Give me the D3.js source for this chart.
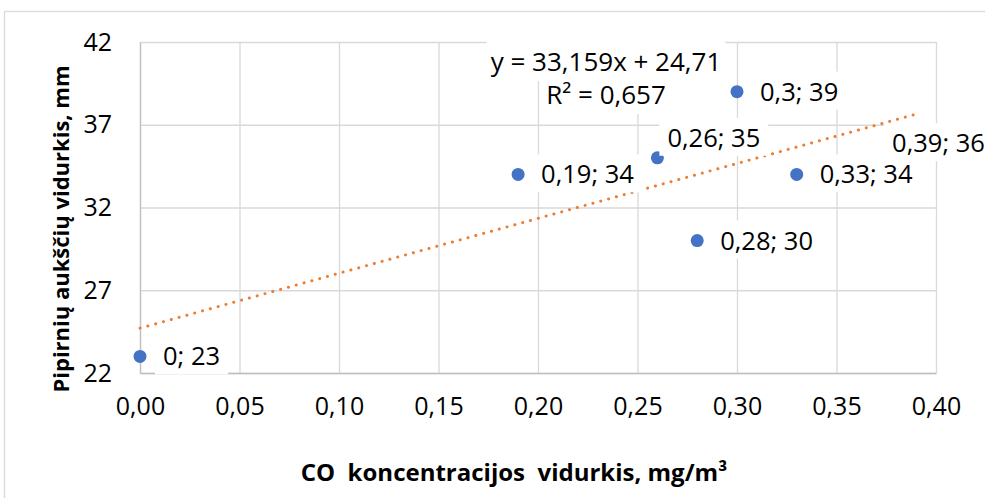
<!DOCTYPE html>
<html>
<head>
<meta charset="utf-8">
<script src="https://cdn.jsdelivr.net/npm/d3@7"></script>
<style>
  body { margin: 0; background: #fff; }
  text { font-family: "Open Sans", sans-serif; fill: #000; }
</style>
</head>
<body>
<script>
// chart values
let xValues = [0, 0.19, 0.26, 0.28, 0.3, 0.33, 0.39]
let yValues = [23, 34, 35, 30, 39, 34, 36]
// label offsets like excel puts them (right of the point, a few moved)
let labelShift = [[0, 0], [0, 0], [-13, -20], [0, 0], [0, 0], [0, 0], [-47, 2]]
let xTicks = [0, 0.05, 0.1, 0.15, 0.2, 0.25, 0.3, 0.35, 0.4]
let yTicks = [22, 27, 32, 37, 42]
let trend = { slope: 33.159, intercept: 24.71, r2: '0,657' }
let xTitle = 'CO  koncentracijos  vidurkis, mg/m³'
let yTitle = 'Pipirnių aukščių vidurkis, mm'

let m = { width: 985, height: 498, left: 140, right: 936, top: 42, bottom: 373 }

let svg = d3.select('body').append('svg')
  .attr('width', m.width)
  .attr('height', m.height)

// outer chart border
svg.append('rect')
  .attr('x', 4.5).attr('y', 11.5)
  .attr('width', 1000).attr('height', 600)
  .attr('fill', 'none').attr('stroke', '#d9d9d9').attr('stroke-width', 1.3)

let x = d3.scaleLinear().domain([0, 0.4]).range([m.left, m.right])
let y = d3.scaleLinear().domain([22, 42]).range([m.bottom, m.top])

let fmt = d3.format('.2f')

// grid
svg.append('g')
  .attr('transform', 'translate(0,' + m.bottom + ')')
  .call(d3.axisBottom(x).tickValues(xTicks).tickSize(-(m.bottom - m.top)).tickFormat(''))
  .call(g => g.select('.domain').remove())
  .selectAll('line').attr('stroke', '#d9d9d9').attr('stroke-width', 1.3)

svg.append('g')
  .attr('transform', 'translate(' + m.left + ',0)')
  .call(d3.axisLeft(y).tickValues(yTicks).tickSize(-(m.right - m.left)).tickFormat(''))
  .call(g => g.select('.domain').remove())
  .selectAll('line').attr('stroke', '#d9d9d9').attr('stroke-width', 1.3)

// axis lines + tick labels
let xAxis = svg.append('g')
  .attr('transform', 'translate(0,' + m.bottom + ')')
  .call(d3.axisBottom(x).tickValues(xTicks).tickSize(0).tickPadding(24)
    .tickFormat(d => fmt(d).replace('.', ',')))
xAxis.select('.domain').attr('stroke', '#bfbfbf').attr('stroke-width', 1.3)
xAxis.selectAll('text').style('font-size', '25px').attr('fill', '#000')

let yAxis = svg.append('g')
  .attr('transform', 'translate(' + m.left + ',0)')
  .call(d3.axisLeft(y).tickValues(yTicks).tickSize(0).tickPadding(28))
yAxis.select('.domain').attr('stroke', '#bfbfbf').attr('stroke-width', 1.3)
yAxis.selectAll('text').style('font-size', '25px').attr('fill', '#000')

// trend line
svg.append('line')
  .attr('x1', x(0)).attr('y1', y(trend.intercept))
  .attr('x2', x(d3.max(xValues))).attr('y2', y(trend.intercept + trend.slope * d3.max(xValues)))
  .attr('stroke', '#ed7d31')
  .attr('stroke-width', 3)
  .attr('stroke-linecap', 'round')
  .attr('stroke-dasharray', '0.1 8')

// points
let pts = xValues.map((v, i) => ({ x: v, y: yValues[i], shift: labelShift[i] }))

svg.selectAll('circle.pt')
  .data(pts)
  .enter()
  .append('circle')
    .attr('class', 'pt')
    .attr('cx', d => x(d.x))
    .attr('cy', d => y(d.y))
    .attr('r', 6.5)
    .attr('fill', '#4472c4')

// helper for labels with white boxes behind
function boxedText(tx, ty, str, anchor, size, padX, padY) {
  let g = svg.append('g')
  let t = g.append('text')
    .attr('x', tx).attr('y', ty)
    .attr('dy', '0.35em')
    .attr('text-anchor', anchor)
    .style('font-size', size + 'px')
    .text(str)
  let b = t.node().getBBox()
  g.insert('rect', 'text')
    .attr('x', b.x - padX).attr('y', b.y - padY)
    .attr('width', b.width + padX * 2).attr('height', b.height + padY * 2)
    .attr('fill', '#fff')
  return g
}

pts.forEach(function(d) {
  let lbl = String(d.x).replace('.', ',') + '; ' + d.y
  boxedText(x(d.x) + 23 + d.shift[0], y(d.y) + d.shift[1], lbl, 'start', 25.5, 8, 2)
})

// equation
let eqX = 606
boxedText(eqX, 62, 'y = ' + String(trend.slope).replace('.', ',') + 'x + ' + String(trend.intercept).replace('.', ','), 'middle', 26, 4, 2)
boxedText(eqX, 95, 'R² = ' + trend.r2, 'middle', 26, 4, 2)

// axis titles
svg.append('text')
  .attr('x', 514).attr('y', 473)
  .attr('dy', '0.35em')
  .attr('text-anchor', 'middle')
  .style('font-size', '24px')
  .style('font-weight', 'bold')
  .style('white-space', 'pre')
  .text(xTitle)

svg.append('text')
  .attr('transform', 'translate(61,229) rotate(-90)')
  .attr('dy', '0.35em')
  .attr('text-anchor', 'middle')
  .style('font-size', '22px')
  .style('font-weight', 'bold')
  .text(yTitle)
</script>
</body>
</html>
